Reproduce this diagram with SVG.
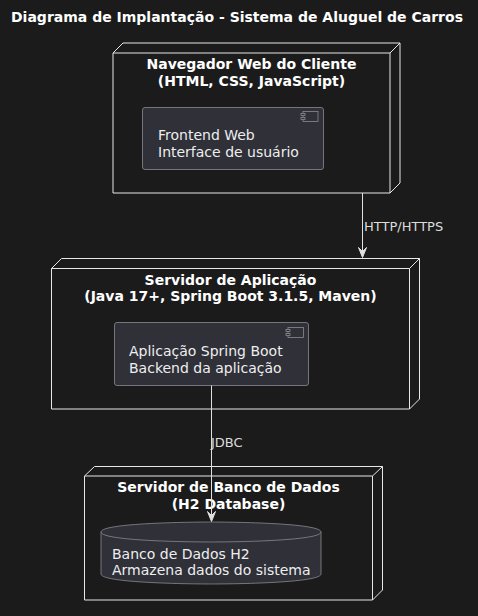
<svg xmlns="http://www.w3.org/2000/svg" width="478" height="616" viewBox="0 0 478 616">
  <defs>
    <style>
      .bg { fill: #1b1b1b; }
      .node { fill: #1b1b1b; stroke: #e8e8e8; stroke-width: 1; }
      .node-edge { fill: none; stroke: #e8e8e8; stroke-width: 1; }
      .comp { fill: #2f3038; stroke: #8a8a8f; stroke-width: 0.8; }
      .icon { fill: #2f3038; stroke: #8a8a8f; stroke-width: 0.8; }
      .title { font-family: "DejaVu Sans", sans-serif; font-size: 14px; font-weight: bold; fill: #ffffff; }
      .ntitle { font-family: "DejaVu Sans", sans-serif; font-size: 14px; font-weight: bold; fill: #ffffff; text-anchor: middle; }
      .label { font-family: "DejaVu Sans", sans-serif; font-size: 14px; fill: #eeeeee; }
      .elabel { font-family: "DejaVu Sans", sans-serif; font-size: 13px; fill: #dddddd; }
      .link { fill: none; stroke: #e0e0e0; stroke-width: 1; }
      .head { fill: #e0e0e0; stroke: #e0e0e0; stroke-width: 1; }
    </style>
  </defs>

  <rect class="bg" x="0" y="0" width="478" height="616"/>

  <text class="title" x="11" y="22">Diagrama de Implantação - Sistema de Aluguel de Carros</text>

  <!-- Client browser node -->
  <g id="node-navegador">
    <polygon class="node" points="113,53 123,43 400,43 400,183 390,193 113,193"/>
    <path class="node-edge" d="M390,193 L390,53 L400,43 M113,53 L390,53"/>
    <text class="ntitle" x="251.5" y="69">Navegador Web do Cliente</text>
    <text class="ntitle" x="251.5" y="86">(HTML, CSS, JavaScript)</text>
    <g id="comp-frontend">
      <rect class="comp" x="142.5" y="107.5" width="181" height="62" rx="2.5"/>
      <rect class="icon" x="303" y="111.5" width="15" height="10"/>
      <rect class="icon" x="301" y="113.5" width="4" height="2"/>
      <rect class="icon" x="301" y="117.5" width="4" height="2"/>
      <text class="label" x="158" y="140">Frontend Web</text>
      <text class="label" x="158" y="157">Interface de usuário</text>
    </g>
  </g>

  <!-- Application server node -->
  <g id="node-aplicacao">
    <polygon class="node" points="51.5,268.5 61.5,258.5 419.5,258.5 419.5,399 409.5,409 51.5,409"/>
    <path class="node-edge" d="M409.5,409 L409.5,268.5 L419.5,258.5 M51.5,268.5 L409.5,268.5"/>
    <text class="ntitle" x="230.5" y="285">Servidor de Aplicação</text>
    <text class="ntitle" x="230.5" y="301">(Java 17+, Spring Boot 3.1.5, Maven)</text>
    <g id="comp-backend">
      <rect class="comp" x="114.5" y="322.5" width="194" height="63" rx="2.5"/>
      <rect class="icon" x="288" y="327.5" width="15.5" height="10"/>
      <rect class="icon" x="286" y="329.5" width="4" height="2"/>
      <rect class="icon" x="286" y="333.5" width="4" height="2"/>
      <text class="label" x="129" y="356">Aplicação Spring Boot</text>
      <text class="label" x="129" y="373">Backend da aplicação</text>
    </g>
  </g>

  <!-- Database server node -->
  <g id="node-banco">
    <polygon class="node" points="84.5,476 94.5,466.5 382.5,466.5 382.5,590 372.5,600 84.5,600"/>
    <path class="node-edge" d="M372.5,600 L372.5,476 L382.5,466.5 M84.5,476 L372.5,476"/>
    <text class="ntitle" x="228.5" y="492">Servidor de Banco de Dados</text>
    <text class="ntitle" x="228.5" y="508.5">(H2 Database)</text>
    <g id="db-h2">
      <path class="comp" d="M101,532 C101,522 211,522 211,522 C211,522 321,522 321,532 L321,574 C321,584 211,584 211,584 C211,584 101,584 101,574 Z"/>
      <path class="comp" fill="none" d="M101,532 C101,542 211,542 211,542 C211,542 321,542 321,532"/>
      <text class="label" x="112" y="558.5">Banco de Dados H2</text>
      <text class="label" x="112" y="575">Armazena dados do sistema</text>
    </g>
  </g>

  <!-- Connectors -->
  <g id="connectors">
    <path class="link" d="M362.5,193 L362.5,256"/>
    <polygon class="head" points="362.5,257.5 358.5,247.5 362.5,251.5 366.5,247.5"/>
    <text class="elabel" x="364" y="231">HTTP/HTTPS</text>

    <path class="link" d="M211.5,385.5 L211.5,520"/>
    <polygon class="head" points="211.5,521.5 207.5,511.5 211.5,515.5 215.5,511.5"/>
    <text class="elabel" x="211" y="447">JDBC</text>
  </g>
</svg>
